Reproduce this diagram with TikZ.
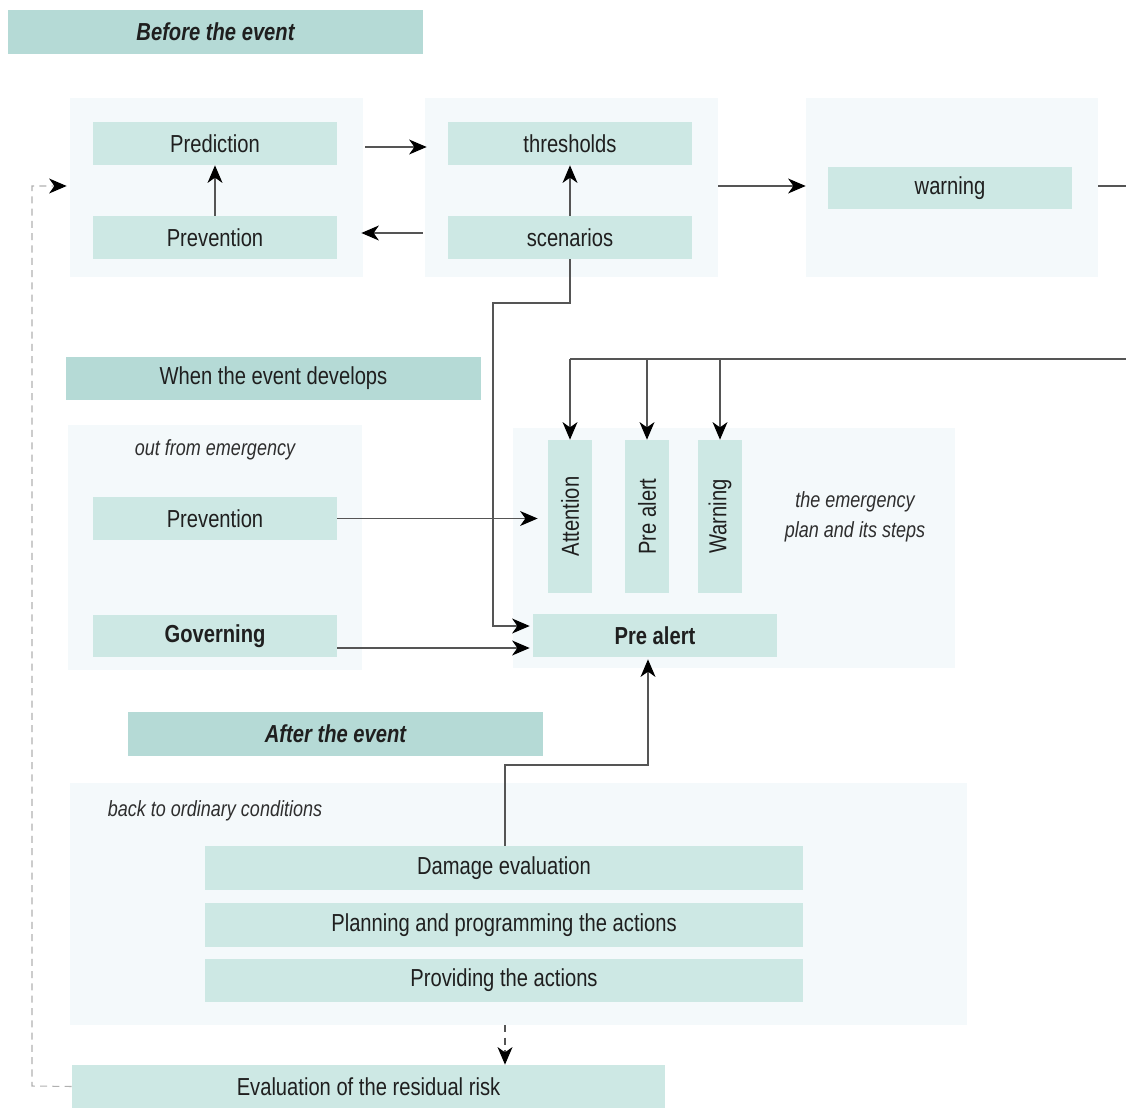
\documentclass[tikz,border=0pt]{standalone}
\usepackage{fontspec}
\setmainfont{Liberation Sans}[FakeStretch=0.82]
\usetikzlibrary{arrows.meta}
\definecolor{boxfill}{HTML}{CDE8E4}
\definecolor{hdrfill}{HTML}{B5DAD6}
\definecolor{panfill}{HTML}{F4F9FB}
\definecolor{linec}{HTML}{555555}
\definecolor{dashc}{HTML}{B0B0B0}
\begin{document}
\begin{tikzpicture}[x=0.02cm,y=-0.02cm,
  panel/.style={fill=panfill, draw=none, inner sep=0},
  box/.style={fill=boxfill, inner sep=0, minimum width=4.88cm, minimum height=0.86cm,
    font=\fontsize{14}{16}\selectfont, text=black!88},
  vbox/.style={box, minimum width=3.06cm, minimum height=0.88cm, rotate=90},
  hdr/.style={fill=hdrfill, inner sep=0, minimum width=8.3cm, minimum height=0.87cm,
    font=\fontsize{14}{16}\selectfont, text=black!88},
  note/.style={font=\fontsize{12.5}{15}\selectfont\itshape, align=center, text=black!82, inner sep=0},
  tip/.style={-{Stealth[length=10pt,width=8.5pt,inset=3pt,color=black]}},
  conn/.style={draw=linec, line width=0.6pt},
  arr/.style={conn, tip},
  dashconn/.style={draw=dashc, line width=0.6pt, dash pattern=on 4pt off 3pt},
]
\useasboundingbox (0,0) rectangle (1126,1108);

% ---- before the event ----
\node[hdr] (h1) at (215.5,32) {\bfseries\itshape Before the event};
\node[panel, minimum width=5.86cm, minimum height=3.58cm] (pan1) at (216.5,187.5) {};
\node[panel, minimum width=5.86cm, minimum height=3.58cm] (pan2) at (571.5,187.5) {};
\node[panel, minimum width=5.84cm, minimum height=3.58cm] (pan3) at (952,187.5) {};
\node[box] (pred) at (215,143.5) {Prediction};
\node[box] (prev1) at (215,237.5) {Prevention};
\node[box] (thr) at (570,143.5) {thresholds};
\node[box] (scen) at (570,237.5) {scenarios};
\node[box, minimum height=0.84cm] (warn) at (950,188) {warning};

% ---- when the event develops ----
\node[hdr] (h2) at (273.5,378.5) {When the event develops};
\node[panel, minimum width=5.88cm, minimum height=4.9cm] (pan4) at (215,547.5) {};
\node[panel, minimum width=8.84cm, minimum height=4.8cm] (pan5) at (734,548) {};
\node[note] (outem) at (215,450) {out from emergency};
\node[box] (prev2) at (215,518.5) {Prevention};
\node[box] (gov) at (215,636) {\bfseries Governing};
\node[vbox] (att) at (570,516.5) {Attention};
\node[vbox] (prev) at (647,516.5) {Pre alert};
\node[vbox] (warnv) at (720,516.5) {Warning};
\node[note] (plan) at (855,517) {the emergency\\[2pt]plan and its steps};
\node[box] (prealert) at (655,635.5) {\bfseries Pre alert};

% ---- after the event ----
\node[hdr] (h3) at (335.5,734) {\bfseries\itshape After the event};
\node[panel, minimum width=17.94cm, minimum height=4.84cm] (pan6) at (518.5,904) {};
\node[note] (back) at (215,811) {back to ordinary conditions};
\node[box, minimum width=11.96cm, minimum height=0.88cm] (dmg) at (504,868) {Damage evaluation};
\node[box, minimum width=11.96cm, minimum height=0.88cm] (plact) at (504,925) {Planning and programming the actions};
\node[box, minimum width=11.96cm, minimum height=0.86cm] (prov) at (504,980.5) {Providing the actions};
\node[box, minimum width=11.86cm, minimum height=0.86cm] (resid) at (368.5,1086.5) {Evaluation of the residual risk};

% ---- helper coordinates ----
\coordinate (yA) at (0,147);
\coordinate (yB) at (0,233);
\coordinate (yC) at (0,186);
\coordinate (yD) at (0,626);
\coordinate (yE) at (0,648);
\coordinate (edgeW) at (1126,186);
\coordinate (edgeT) at (1126,359);
\coordinate (bendS1) at (570,303);
\coordinate (bendS2) at (493,303);
\coordinate (bendS3) at (493,626);
\coordinate (bendD1) at (505,765);
\coordinate (bendD2) at (648,765);
\coordinate (bendT1) at (570,359);
\coordinate (dashL1) at (32,1086);
\coordinate (dashL2) at (32,186);

% ---- connectors ----
\draw[arr] (prev1.north) -- (pred.south);
\draw[arr] (scen.north) -- (thr.south);
\draw[arr] ([xshift=0.04cm]pan1.east |- yA) -- ([xshift=0.04cm]pan2.west |- yA);
\draw[arr] ([xshift=-0.04cm]pan2.west |- yB) -- ([xshift=-0.04cm]pan1.east |- yB);
\draw[arr] (pan2.east |- yC) -- (pan3.west |- yC);
\draw[conn] (pan3.east |- yC) -- (edgeW);

\draw[arr] (scen.south) -- (bendS1) -- (bendS2) -- (bendS3) -- ([xshift=-0.06cm]prealert.west |- yD);
\draw[arr] (prev2.east) -- ([xshift=-0.2cm]att.north |- prev2.east);
\draw[arr] (gov.east |- yE) -- ([xshift=-0.06cm]prealert.west |- yE);

\draw[conn] (edgeT) -- (bendT1);
\draw[arr] (bendT1) -- (att.east);
\draw[arr] (prev.east |- edgeT) -- (prev.east);
\draw[arr] (warnv.east |- edgeT) -- (warnv.east);

\draw[arr] (dmg.north -| bendD1) -- (bendD1) -- (bendD2) -- ([yshift=-0.04cm]bendD2 |- prealert.south);

\draw[dashconn, tip, draw=linec]
  (pan6.south -| bendD1) -- (resid.north -| bendD1);
\draw[dashconn, tip]
  (resid.west) -- (dashL1) -- (dashL2) -- ([xshift=-0.06cm]pan1.west |- dashL2);
\end{tikzpicture}
\end{document}
